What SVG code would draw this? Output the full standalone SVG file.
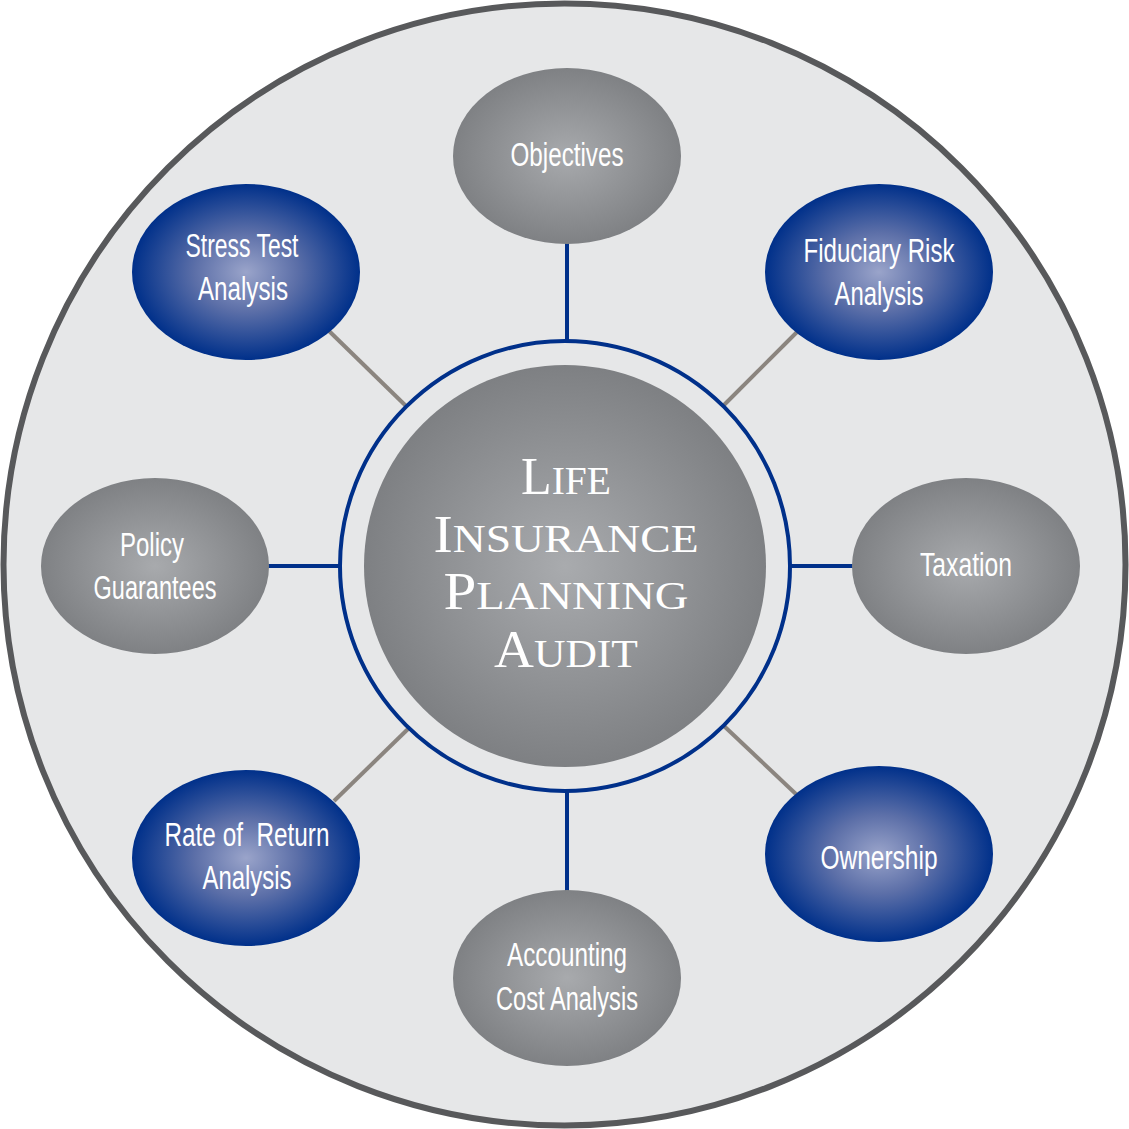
<svg xmlns="http://www.w3.org/2000/svg" width="1129" height="1129" viewBox="0 0 1129 1129">
<defs>
<radialGradient id="gGray" cx="50%" cy="50%" r="50%">
<stop offset="0" stop-color="#a8aaad"/>
<stop offset="1" stop-color="#7f8184"/>
</radialGradient>
<radialGradient id="gBlue" cx="50%" cy="50%" r="50%">
<stop offset="0" stop-color="#9aa4ca"/>
<stop offset="0.45" stop-color="#5c6fa8"/>
<stop offset="1" stop-color="#00308a"/>
</radialGradient>
<radialGradient id="gCenter" cx="50%" cy="50%" r="50%">
<stop offset="0" stop-color="#a9abae"/>
<stop offset="1" stop-color="#7e8083"/>
</radialGradient>
</defs>
<style>
.lbl{font-family:"Liberation Sans","DejaVu Sans",sans-serif;font-size:33px;fill:#ffffff;text-anchor:middle}
.ctr{font-family:"Liberation Serif","DejaVu Serif",serif;fill:#ffffff;text-anchor:middle}
.big{font-size:52px}
.sm{font-size:41px}
.blue{stroke:#00308a;stroke-width:4;fill:none}
.grayc{stroke:#8b857f;stroke-width:4;fill:none}
</style>
<circle cx="564.5" cy="564.5" r="561" fill="#e6e7e8" stroke="#58595b" stroke-width="6"/>
<g id="connectors">
<line class="blue" x1="567" y1="242" x2="567" y2="341"/>
<line class="blue" x1="567" y1="789" x2="567" y2="892"/>
<line class="blue" x1="266" y1="566" x2="341" y2="566"/>
<line class="blue" x1="789" y1="566" x2="855" y2="566"/>
<line class="grayc" x1="328" y1="330" x2="406" y2="406"/>
<line class="grayc" x1="724" y1="405" x2="798" y2="331"/>
<line class="grayc" x1="724" y1="726" x2="798" y2="796"/>
<line class="grayc" x1="334" y1="801" x2="409" y2="728"/>
</g>
<g id="center">
<circle cx="565" cy="566" r="225" fill="none" stroke="#00308a" stroke-width="4"/>
<circle cx="565" cy="566" r="201" fill="url(#gCenter)"/>
<text class="ctr" x="566" y="494" textLength="90" lengthAdjust="spacingAndGlyphs"><tspan class="big">L</tspan><tspan class="sm">IFE</tspan></text>
<text class="ctr" x="566" y="552" textLength="265" lengthAdjust="spacingAndGlyphs"><tspan class="big">I</tspan><tspan class="sm">NSURANCE</tspan></text>
<text class="ctr" x="566" y="609" textLength="245" lengthAdjust="spacingAndGlyphs"><tspan class="big">P</tspan><tspan class="sm">LANNING</tspan></text>
<text class="ctr" x="566" y="667" textLength="144" lengthAdjust="spacingAndGlyphs"><tspan class="big">A</tspan><tspan class="sm">UDIT</tspan></text>
</g>
<g id="objectives">
<ellipse cx="567" cy="156" rx="114" ry="88" fill="url(#gGray)"/>
<text class="lbl" x="567" y="166" textLength="113" lengthAdjust="spacingAndGlyphs">Objectives</text>
</g>
<g id="fiduciary">
<ellipse cx="879" cy="272" rx="114" ry="88" fill="url(#gBlue)"/>
<text class="lbl" x="879" y="262" textLength="151" lengthAdjust="spacingAndGlyphs">Fiduciary Risk</text>
<text class="lbl" x="879" y="305" textLength="89" lengthAdjust="spacingAndGlyphs">Analysis</text>
</g>
<g id="taxation">
<ellipse cx="966" cy="566" rx="114" ry="88" fill="url(#gGray)"/>
<text class="lbl" x="966" y="576" textLength="92" lengthAdjust="spacingAndGlyphs">Taxation</text>
</g>
<g id="ownership">
<ellipse cx="879" cy="854" rx="114" ry="88" fill="url(#gBlue)"/>
<text class="lbl" x="879" y="869" textLength="117" lengthAdjust="spacingAndGlyphs">Ownership</text>
</g>
<g id="accounting">
<ellipse cx="567" cy="978" rx="114" ry="88" fill="url(#gGray)"/>
<text class="lbl" x="567" y="966" textLength="120" lengthAdjust="spacingAndGlyphs">Accounting</text>
<text class="lbl" x="567" y="1010" textLength="142" lengthAdjust="spacingAndGlyphs">Cost Analysis</text>
</g>
<g id="rateofreturn">
<ellipse cx="246" cy="858" rx="114" ry="88" fill="url(#gBlue)"/>
<text class="lbl" x="247" y="846" textLength="165" lengthAdjust="spacingAndGlyphs" xml:space="preserve">Rate of  Return</text>
<text class="lbl" x="247" y="889" textLength="89" lengthAdjust="spacingAndGlyphs">Analysis</text>
</g>
<g id="policy">
<ellipse cx="155" cy="566" rx="114" ry="88" fill="url(#gGray)"/>
<text class="lbl" x="152" y="556" textLength="64" lengthAdjust="spacingAndGlyphs">Policy</text>
<text class="lbl" x="155" y="599" textLength="123" lengthAdjust="spacingAndGlyphs">Guarantees</text>
</g>
<g id="stresstest">
<ellipse cx="246" cy="272" rx="114" ry="88" fill="url(#gBlue)"/>
<text class="lbl" x="242" y="257" textLength="113" lengthAdjust="spacingAndGlyphs">Stress Test</text>
<text class="lbl" x="243" y="300" textLength="90" lengthAdjust="spacingAndGlyphs">Analysis</text>
</g>
</svg>
